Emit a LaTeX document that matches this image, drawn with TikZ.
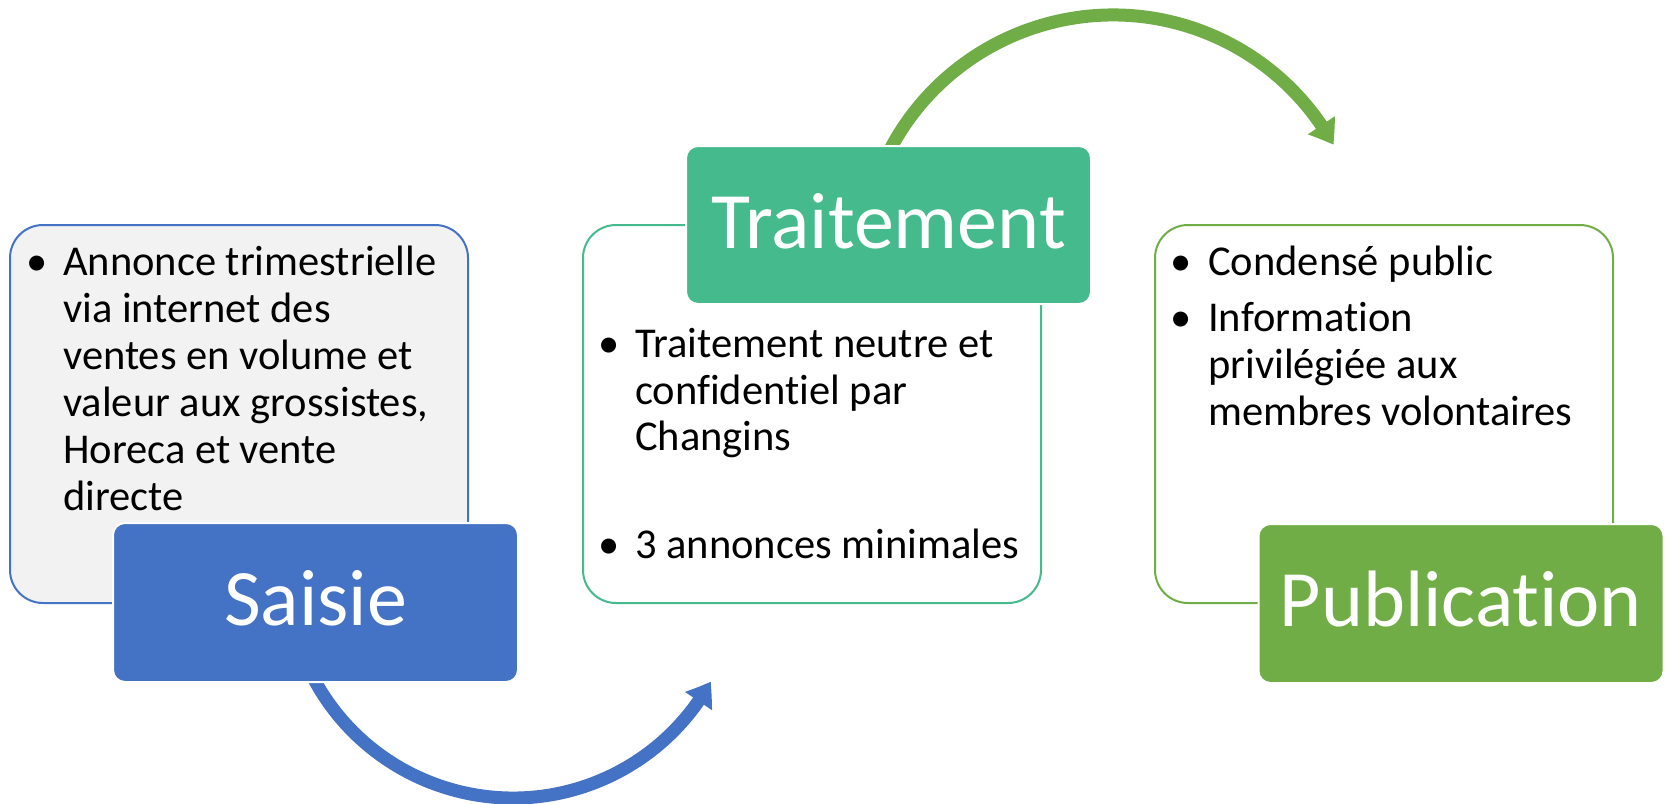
\documentclass[tikz,border=0pt]{standalone}
\usepackage{fontspec}
\setmainfont{Carlito}[Ligatures={NoCommon}]
\usetikzlibrary{arrows.meta,bending}
\definecolor{cblue}{HTML}{4472C4}
\definecolor{cgreen}{HTML}{70AD47}
\definecolor{cteal}{HTML}{45BA8D}
\definecolor{cgray}{HTML}{F2F2F2}
\tikzset{
  card/.style={rounded corners=33pt, line width=2pt, minimum width=458pt, minimum height=378pt, inner sep=0pt, outer sep=0pt},
  headbox/.style={rounded corners=12pt, draw=white, line width=2pt, minimum width=405pt, minimum height=159pt, inner sep=0pt, outer sep=0pt,
    text=white, font=\fontsize{80pt}{90pt}\selectfont, text height=60pt, text depth=14pt},
  body/.style={anchor=base west, inner sep=0pt, font=\fontsize{42.5pt}{47pt}\selectfont},
  bul/.style={anchor=base, inner sep=0pt, font=\fontsize{42.5pt}{47pt}\selectfont},
  bigarrow/.style={line width=13pt, -{Triangle[width=31pt, length=23pt, bend]}}
}
\begin{document}
\begin{tikzpicture}[x=1pt, y=-1pt]
\useasboundingbox (0,0) rectangle (1669,803);
% arrows (behind the boxes)
\coordinate (bstart) at ({513+226*cos(155)}, {572+226*sin(155)});
\coordinate (gstart) at ({1113+252*cos(205)}, {267+252*sin(205)});
\draw[cblue, bigarrow] (bstart) arc[start angle=155, end angle=29, radius=226];
\draw[cgreen, bigarrow] (gstart) arc[start angle=205, end angle=331, radius=252];
% cards
\node[card, draw=cblue, fill=cgray] (card1) at (239,414) {};
\node[card, draw=cteal, fill=white] (card2) at (812,414) {};
\node[card, draw=cgreen, fill=white] (card3) at (1384,414) {};
% heads
\node[headbox, fill=cblue] (saisie) at (315.5,602.5) {Saisie};
\node[headbox, fill=cteal, minimum height=158pt] (traitement) at (888.5,225) {Traitement};
\node[headbox, fill=cgreen] (publication) at (1461,603.5) {Publication};
% card 1 text
\node[bul] (b11) at (37,275) {•};
\node[body] (t11) at (63,275) {Annonce trimestrielle};
\node[body] (t12) at (63,322) {via internet des};
\node[body] (t13) at (63,369) {ventes en volume et};
\node[body] (t14) at (63,416) {valeur aux grossistes,};
\node[body] (t15) at (63,463) {Horeca et vente};
\node[body] (t16) at (63,510) {directe};
% card 2 text
\node[bul] (b21) at (609,357) {•};
\node[body] (t21) at (635,357) {Traitement neutre et};
\node[body] (t22) at (635,404) {confidentiel par};
\node[body] (t23) at (635,450) {Changins};
\node[bul] (b22) at (609,558) {•};
\node[body] (t24) at (635,558) {3 annonces minimales};
% card 3 text
\node[bul] (b31) at (1181,275) {•};
\node[body] (t31) at (1208,275) {Condensé public};
\node[bul] (b32) at (1181,331) {•};
\node[body] (t32) at (1208,331) {Information};
\node[body] (t33) at (1208,378) {privilégiée aux};
\node[body] (t34) at (1208,425) {membres volontaires};
\end{tikzpicture}
\end{document}
